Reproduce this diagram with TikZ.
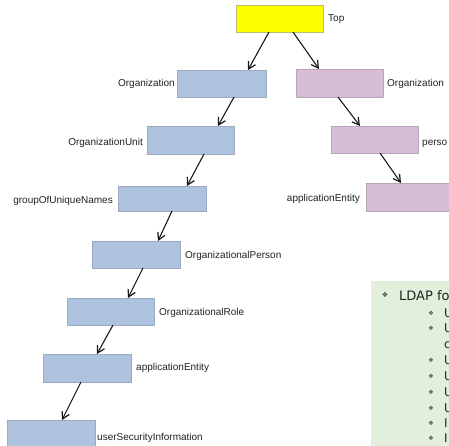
\documentclass[tikz,border=0pt]{standalone}
\usepackage{fontspec}
\setmainfont{Liberation Sans}
\newfontfamily\dvfont{DejaVu Sans}
\usetikzlibrary{arrows.meta,calc}
\definecolor{topfill}{HTML}{FFFF00}
\definecolor{topline}{HTML}{BDBD70}
\definecolor{bluefill}{HTML}{AFC3DE}
\definecolor{blueline}{HTML}{9AAAC2}
\definecolor{pinkfill}{HTML}{D8BDD7}
\definecolor{pinkline}{HTML}{B9A3B8}
\definecolor{greenfill}{HTML}{E2EFDA}
\definecolor{txt}{HTML}{222222}
\begin{document}
\begin{tikzpicture}[x=1pt,y=-1pt,
  box/.style={rectangle, inner sep=0pt, outer sep=0pt, minimum width=88pt,
    minimum height=27pt, anchor=north west, line width=0.6pt},
  topbox/.style={box, fill=topfill, draw=topline},
  bluebox/.style={box, fill=bluefill, draw=blueline},
  pinkbox/.style={box, fill=pinkfill, draw=pinkline},
  lbl/.style={font=\fontsize{10}{12}\selectfont, text=txt, inner sep=0pt},
  arr/.style={-{Straight Barb[length=7pt,width=8pt,line width=1.2pt]}, line width=1.1pt, black!90},
  mainbul/.style={font=\dvfont\fontsize{7}{8}\selectfont, text=black!75, inner sep=0pt},
  subbul/.style={font=\dvfont\fontsize{6}{7}\selectfont, text=black!75, inner sep=0pt},
  maintxt/.style={font=\dvfont\fontsize{13}{15}\selectfont, text=txt, inner sep=0pt, anchor=base west},
  subtxt/.style={font=\dvfont\fontsize{12}{14}\selectfont, text=txt, inner sep=0pt, anchor=base west}]
\useasboundingbox (0,0) rectangle (449,445);
\clip (0,0) rectangle (449,445);
\fill[white] (0,0) rectangle (449,445);

% boxes
\node[topbox, minimum width=87pt] (top) at (236,5) {};
\node[bluebox, minimum width=89pt] (orgL) at (177,70) {};
\node[pinkbox, minimum width=87pt, minimum height=28pt] (orgR) at (296,69) {};
\node[bluebox, minimum width=87pt, minimum height=28pt] (ou) at (147,126) {};
\node[pinkbox, minimum width=87pt] (person) at (331,126) {};
\node[bluebox, minimum height=25pt] (group) at (118,186) {};
\node[pinkbox, minimum width=100pt, minimum height=28pt] (aeR) at (366,183) {};
\node[bluebox] (op) at (92,241) {};
\node[bluebox, minimum width=87pt] (or) at (67,298) {};
\node[bluebox, minimum height=28pt] (aeL) at (43,354) {};
\node[bluebox, minimum height=32pt] (usi) at (7,420) {};

% labels
\node[lbl, anchor=base west] (ltop) at (328,21.5) {Top};
\node[lbl, anchor=base east] (lorgL) at (175,86.5) {Organization};
\node[lbl, anchor=base west] (lorgR) at (387,86.5) {Organization};
\node[lbl, anchor=base east] (lou) at (143,145.5) {OrganizationUnit};
\node[lbl, anchor=base west] (lperson) at (422,145) {perso};
\node[lbl, anchor=base east] (lgroup) at (113,203) {groupOfUniqueNames};
\node[lbl, anchor=base east] (laeR) at (360,201) {applicationEntity};
\node[lbl, anchor=base west] (lop) at (185,258) {OrganizationalPerson};
\node[lbl, anchor=base west] (lor) at (159,315) {OrganizationalRole};
\node[lbl, anchor=base west] (laeL) at (136,370) {applicationEntity};
\node[lbl, anchor=base west] (lusi) at (97,440) {userSecurityInformation};

% arrows
\draw[arr] ($(top.south west)+(33,0)$) -- ($(orgL.north west)+(71,0)$);
\draw[arr] ($(top.south west)+(57,0)$) -- ($(orgR.north west)+(23,0)$);
\draw[arr] ($(orgL.south west)+(57,0)$) -- ($(ou.north west)+(71,0)$);
\draw[arr] ($(ou.south west)+(57,0)$) -- ($(group.north west)+(69,0)$);
\draw[arr] ($(group.south west)+(54,0)$) -- ($(op.north west)+(66,0)$);
\draw[arr] ($(op.south west)+(51,0)$) -- ($(or.north west)+(61,0)$);
\draw[arr] ($(or.south west)+(46,0)$) -- ($(aeL.north west)+(54,0)$);
\draw[arr] ($(aeL.south west)+(38,0)$) -- ($(usi.north west)+(55,0)$);
\draw[arr] ($(orgR.south west)+(42,0)$) -- ($(person.north west)+(29,0)$);
\draw[arr] ($(person.south west)+(49,0)$) -- ($(aeR.north west)+(35,0)$);

% green text panel
\node[rectangle, fill=greenfill, inner sep=0pt, outer sep=0pt, anchor=north west,
  minimum width=90pt, minimum height=170pt] (panel) at (371,281) {};
\node[mainbul] (b0) at (385,295) {❖};
\node[maintxt] (t0) at (399,300) {LDAP fo};
\node[subbul] (b1) at (431,313) {❖};
\node[subtxt] (t1) at (444,317.4) {U};
\node[subbul] (b2) at (431,328) {❖};
\node[subtxt] (t2) at (444,332.4) {U};
\node[subtxt] (t3) at (444,348.4) {c};
\node[subbul] (b4) at (431,360) {❖};
\node[subtxt] (t4) at (444,364.4) {U};
\node[subbul] (b5) at (431,376) {❖};
\node[subtxt] (t5) at (444,380.4) {U};
\node[subbul] (b6) at (431,392) {❖};
\node[subtxt] (t6) at (444,396.4) {U};
\node[subbul] (b7) at (431,408) {❖};
\node[subtxt] (t7) at (444,412.4) {U};
\node[subbul] (b8) at (431,423) {❖};
\node[subtxt] (t8) at (444,427.4) {I};
\node[subbul] (b9) at (431,438) {❖};
\node[subtxt] (t9) at (444,442.4) {I};
\end{tikzpicture}
\end{document}
